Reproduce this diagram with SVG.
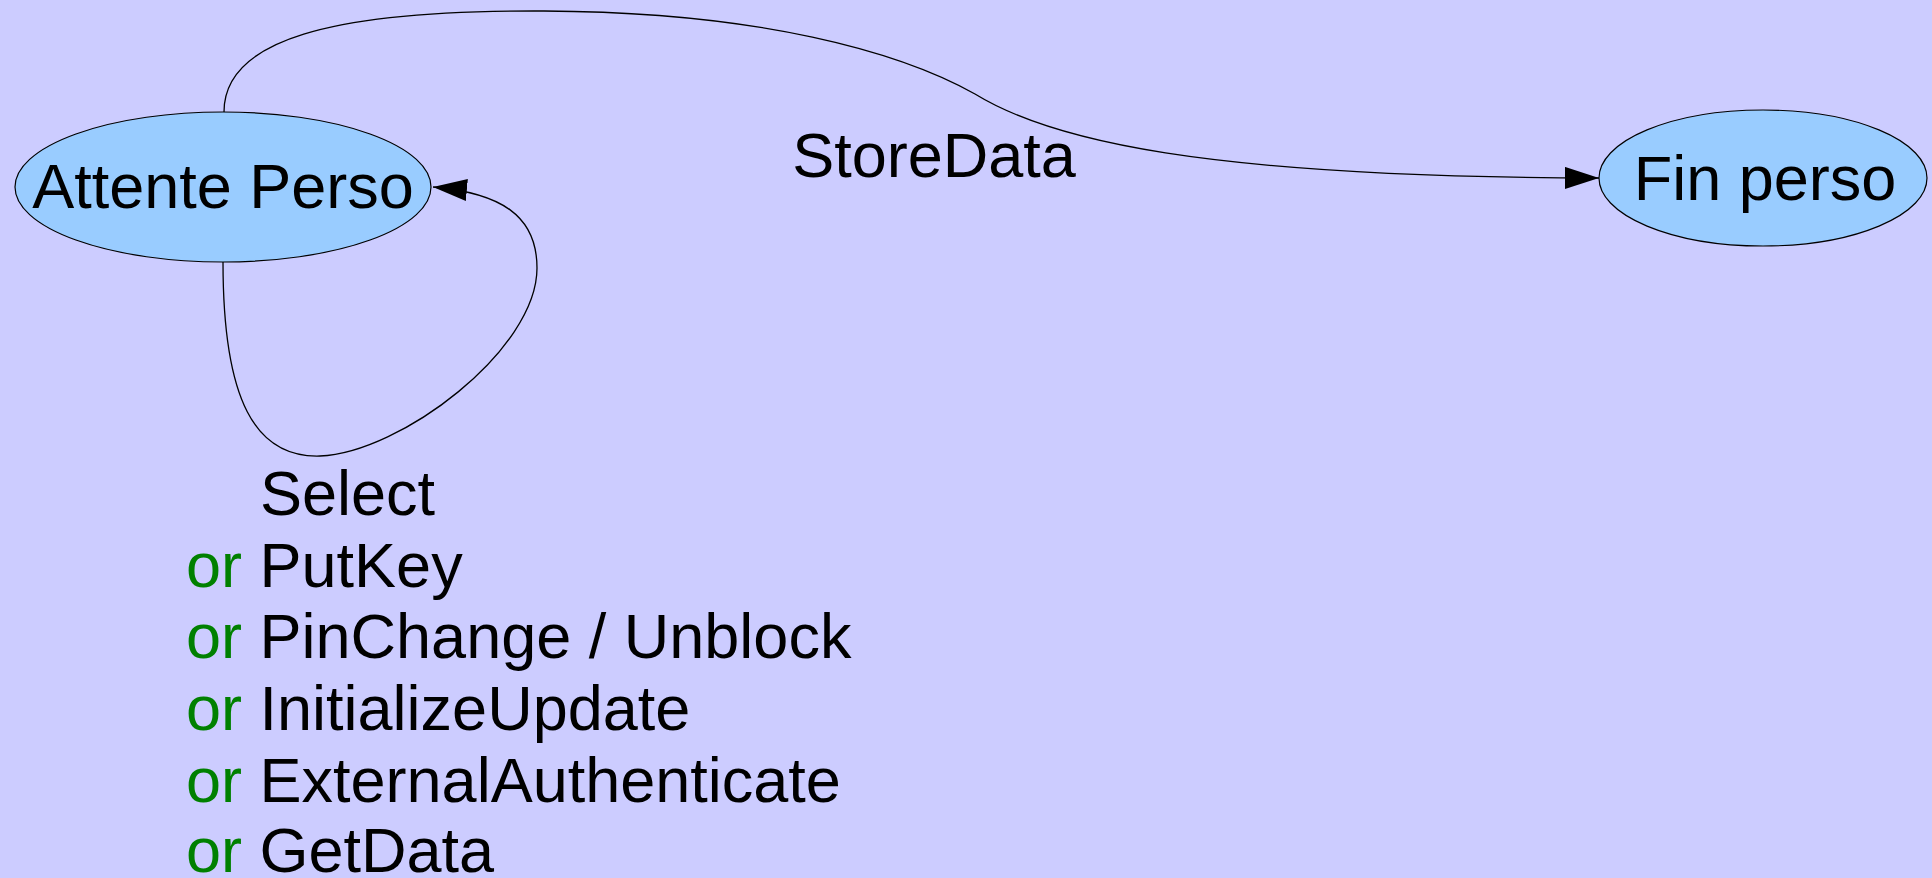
<svg xmlns="http://www.w3.org/2000/svg" width="1932" height="878" viewBox="0 0 1932 878">
  <style>
    .state { fill: #99ccff; stroke: #000000; stroke-width: 1.2; }
    .label { font-family: "Liberation Sans", Arial, sans-serif; font-size: 63px; fill: #000000; }
    .edge { fill: none; stroke: #000000; stroke-width: 1.3; }
    .or { fill: #008000; }
  </style>
  <defs>
    <marker id="arrow" markerUnits="userSpaceOnUse" markerWidth="34" markerHeight="22" refX="34" refY="11" orient="auto">
      <path d="M0,0 L34,11 L0,22 Z" fill="#000000"/>
    </marker>
  </defs>

  <rect x="0" y="0" width="1932" height="878" fill="#ccccff"/>

  <!-- transitions -->
  <g id="edges">
    <path id="edge-storedata" class="edge" marker-end="url(#arrow)"
          d="M224,112 C224,40 330,10 544,11 C760,12 900,52 975,94 C1050,140 1200,177 1599,178"/>
    <path id="edge-loop" class="edge" marker-end="url(#arrow)"
          d="M223,262 C223,400 255,458 320,456 C400,453 537,350 537,268 C537,215 500,193 433,187"/>
    <text class="label" x="934" y="177" text-anchor="middle">StoreData</text>
    <g id="loop-label" class="label">
      <text x="260" y="515">Select</text>
      <text x="186" y="587"><tspan class="or">or</tspan> PutKey</text>
      <text x="186" y="658"><tspan class="or">or</tspan> PinChange / Unblock</text>
      <text x="186" y="730"><tspan class="or">or</tspan> InitializeUpdate</text>
      <text x="186" y="802"><tspan class="or">or</tspan> ExternalAuthenticate</text>
      <text x="186" y="872"><tspan class="or">or</tspan> GetData</text>
    </g>
  </g>

  <!-- states -->
  <g id="attente-perso">
    <ellipse class="state" cx="223" cy="187" rx="208" ry="75"/>
    <text class="label" x="223" y="208" text-anchor="middle">Attente Perso</text>
  </g>
  <g id="fin-perso">
    <ellipse class="state" cx="1763" cy="178" rx="164" ry="68"/>
    <text class="label" x="1765" y="200" text-anchor="middle">Fin perso</text>
  </g>
</svg>
